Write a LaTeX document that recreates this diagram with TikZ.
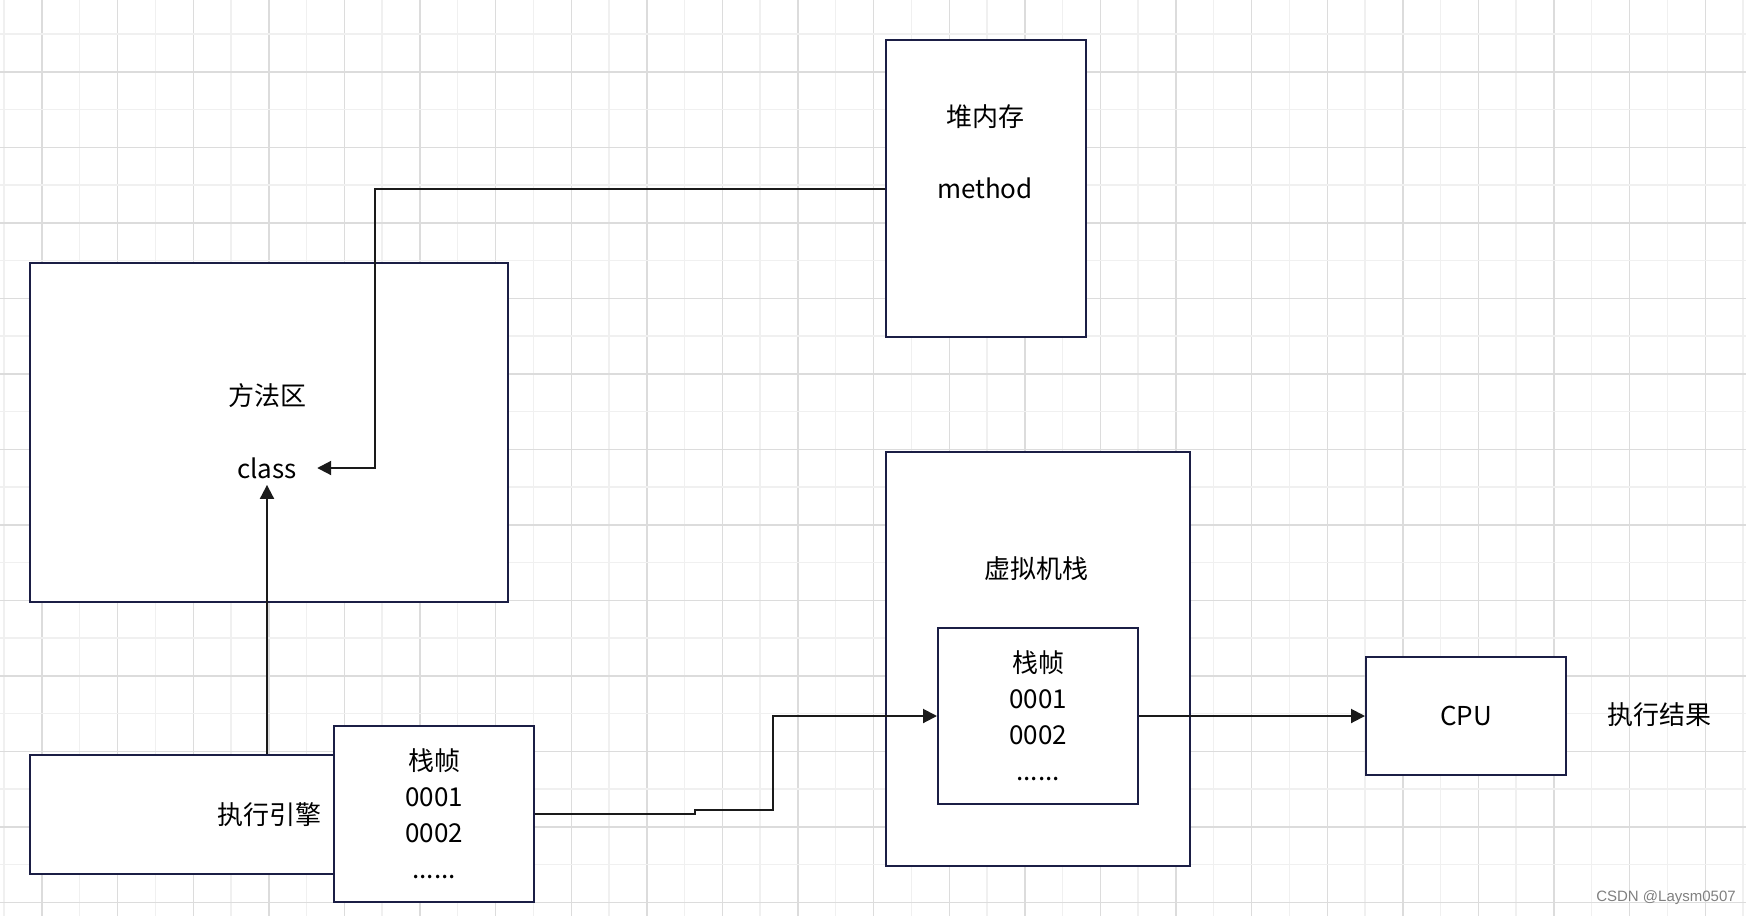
\documentclass[tikz,border=0pt]{standalone}
\usepackage{fontspec}
\setmainfont{Noto Sans CJK SC}
\newfontfamily\markfont{Liberation Sans}
\usetikzlibrary{arrows.meta}

\definecolor{boxline}{HTML}{1B1E45}
\definecolor{wire}{HTML}{1A1A1A}
\definecolor{gridlight}{HTML}{F0F0F0}
\definecolor{griddark}{HTML}{DCDCDC}

\begin{document}
\begin{tikzpicture}[
      x=0.5pt, y=-0.5pt,
      every node/.style={font=\fontsize{13}{18}\selectfont},
      membox/.style={draw=boxline, line width=1pt, fill=white, anchor=north west, align=center, inner sep=0pt},
      widebox/.style={membox, minimum width=239pt, minimum height=59.5pt},
      stackbox/.style={membox, minimum width=100pt, minimum height=88pt},
      conn/.style={draw=wire, line width=1pt, -{Triangle[length=7pt,width=7pt]}},
      gline/.style={line width=0.7pt},
    ]

    \useasboundingbox (0,0) rectangle (1746,916);
    \fill[white] (0,0) rectangle (1746,916);

    % grid
    \foreach \i in {0,...,23} \draw[gline, gridlight] ({4+75.6*\i},0) -- ({4+75.6*\i},916);
    \foreach \i in {0,...,22} \draw[gline, griddark] ({42+75.6*\i},0) -- ({42+75.6*\i},916);
    \foreach \j in {0,...,11} {
      \draw[gline, gridlight] (0,{34+75.5*\j}) -- (1746,{34+75.5*\j});
      \draw[gline, griddark] (0,{72+75.5*\j}) -- (1746,{72+75.5*\j});
    }

    \node[membox, minimum width=239pt, minimum height=169.5pt] (method) at (29,262) {};
    \node[membox, minimum width=100pt, minimum height=148.5pt] (heap) at (885,39) {};
    \node[widebox] (exec) at (29,754) {执行引擎};
    \node[stackbox] (fr1) at (333,725) {栈帧\\0001\\0002\\......};
    \node[membox, minimum width=152pt, minimum height=207pt] (vm) at (885,451) {};
    \node[stackbox] (fr2) at (937,627) {栈帧\\0001\\0002\\......};
    \node[membox, minimum width=100pt, minimum height=59pt] (cpu) at (1365,656) {CPU};

    \node (mtitle) at (267,396) {方法区};
    \node[inner xsep=10pt, inner ysep=3pt] (cls) at (267,468) {class};
    \node[align=center] (htitle) at (985,152) {堆内存\\[18pt]method};
    \node (vmtitle) at (1036,569) {虚拟机栈};
    \node (result) at (1659,715) {执行结果};
    \node[font=\markfont\fontsize{7.5}{9}\selectfont, text=gray] (mark) at (1666,898) {CSDN @Laysm0507};

    \coordinate (hbend) at (375,0);
    \coordinate (jog) at (695,0);
    \coordinate (rise) at (773,0);

    \draw[conn] (heap.west) -| (hbend |- cls.east) -- (cls.east);
    \draw[conn] (cls.south |- exec.north) -- (cls.south);
    \draw[conn] (fr1.east) -- (fr1.east -| jog) -- ++(0,-4) -| (rise |- fr2.west) -- (fr2.west);
    \draw[conn] (fr2.east) -- (fr2.east -| cpu.west);

  \end{tikzpicture}
\end{document}
